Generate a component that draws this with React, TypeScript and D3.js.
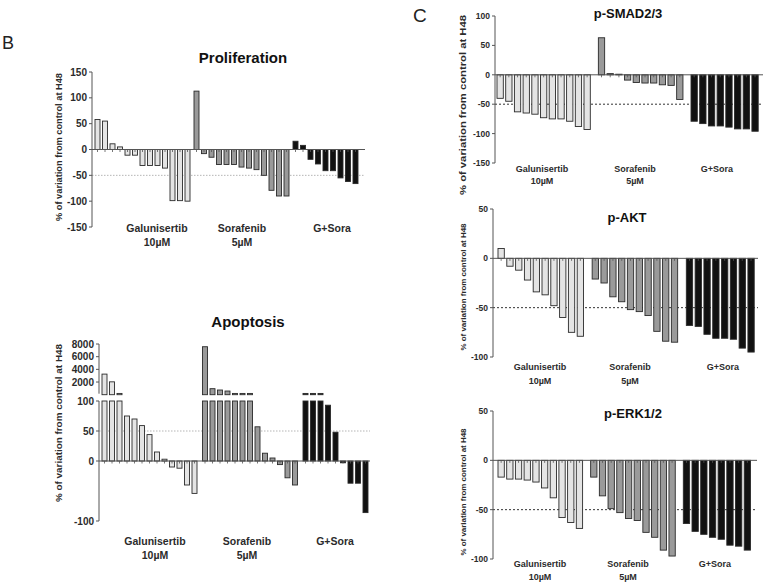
import React from "react";
import * as d3 from "d3";

const groupLabels: string[][] = [["Galunisertib", "10µM"], ["Sorafenib", "5µM"], ["G+Sora"]];
const yAxisTitle = "% of variation from control at H48";

const prolifGalunisertib = [58, 55, 11, 5, -11, -11, -31, -31, -31, -36, -99, -99, -100];
const prolifSorafenib = [113, -8, -15, -29, -29, -29, -34, -36, -39, -50, -79, -90, -90];
const prolifCombo = [16, 8, -19, -28, -41, -41, -55, -62, -66];

const apopGalunisertib = [3250, 2030, 200, 75, 70, 59, 44, 15, 3, -10, -12, -40, -54];
const apopSorafenib = [7570, 950, 740, 580, 200, 200, 200, 57, 13, 5, -6, -28, -40];
const apopCombo = [200, 200, 200, 93, 48, -3, -37, -37, -86];

const smadGalunisertib = [-40, -45, -63, -65, -67, -73, -75, -75, -79, -88, -93];
const smadSorafenib = [63, 2, 1, -9, -13, -14, -14, -17, -18, -42];
const smadCombo = [-79, -83, -87, -87, -89, -92, -92, -96];

const aktGalunisertib = [10, -8, -12, -22, -34, -37, -48, -60, -75, -79];
const aktSorafenib = [-21, -25, -39, -44, -52, -54, -58, -74, -84, -85];
const aktCombo = [-68, -69, -77, -81, -81, -82, -91, -95];

const erkGalunisertib = [-17, -19, -19, -20, -22, -28, -38, -58, -63, -69];
const erkSorafenib = [-17, -36, -49, -53, -59, -61, -73, -78, -91, -97];
const erkCombo = [-64, -72, -75, -78, -80, -86, -87, -91];

const prolifTicks = [150, 100, 50, 0, -50, -100, -150];
const apopLowerTicks = [100, 50, 0, -100];
const apopUpperTicks = [8000, 6000, 4000, 2000];
const smadTicks = [100, 50, 0, -50, -100, -150];
const aktTicks = [50, 0, -50, -100];
const erkTicks = [50, 0, -50, -100];

const FONT = "'Liberation Sans', Arial, Helvetica, sans-serif";
const fills = ["#e4e4e4", "#9a9a9a", "#111111"];
const STROKE = "#2a2a2a";
const AXIS = "#555";
const TEXT = "#2b2b2b";

type PanelProps = {
  title: string; titleX: number; titleY: number; titleSize: number;
  groups: number[][];
  x0: number; step: number; gap: number; barW: number;
  axisX: number; yDomain: [number, number]; yRange: [number, number];
  ticks: number[]; tickSize: number;
  zeroEnd: number; refValue: number; refColor: string; refDash: string;
  labelXs: number[]; labelY: number; labelY2: number; labelSize: number;
  ylabX: number; ylabCY: number; ylabLen: number; ylabSize: number;
  upper?: { domain: [number, number]; range: [number, number]; ticks: number[]; clampAt: number };
};

function Panel(p: PanelProps) {
  const y = d3.scaleLinear().domain(p.yDomain).range(p.yRange);
  const items: { gi: number; v: number; slot: number }[] = [];
  let slot = 0;
  p.groups.forEach((g, gi) => {
    g.forEach((v) => { items.push({ gi, v, slot }); slot += 1; });
    slot += p.gap;
  });
  const total = slot - p.gap;
  const x = d3.scaleLinear().domain([0, total]).range([p.x0, p.x0 + total * p.step]);
  const y0 = y(0);
  const yu = p.upper ? d3.scaleLinear().domain(p.upper.domain).range(p.upper.range) : null;
  const clamp = p.upper ? p.upper.clampAt : Infinity;
  const lowerTop = p.upper ? y(clamp) : p.yRange[1];
  return (
    <g>
      <text x={p.titleX} y={p.titleY} textAnchor="middle" fontFamily={FONT} fontWeight="bold" fontSize={p.titleSize} fill="#111">{p.title}</text>
      {/* reference line */}
      <line x1={p.axisX} x2={p.zeroEnd} y1={y(p.refValue)} y2={y(p.refValue)} stroke={p.refColor} strokeWidth={1} strokeDasharray={p.refDash} />
      {/* bars */}
      {items.map((it, i) => {
        const v = Math.min(it.v, clamp);
        const bx = x(it.slot);
        const top = Math.min(y(v), y0);
        const h = Math.abs(y(v) - y0);
        return (
          <g key={i}>
            <rect x={bx} y={top} width={p.barW} height={Math.max(h, 0.6)} fill={fills[it.gi]} stroke={STROKE} strokeWidth={0.9} />
            {yu && it.v > clamp ? (
              <rect x={bx} y={yu(it.v)} width={p.barW} height={Math.max(yu(0) - yu(it.v), 0.8)} fill={fills[it.gi]} stroke={STROKE} strokeWidth={0.9} />
            ) : null}
            <line x1={bx + p.barW / 2} x2={bx + p.barW / 2} y1={y0} y2={y0 + 2.5} stroke={AXIS} strokeWidth={0.8} />
          </g>
        );
      })}
      {/* zero line */}
      <line x1={p.axisX} x2={p.zeroEnd} y1={y0} y2={y0} stroke={AXIS} strokeWidth={1} />
      {/* y axis */}
      <line x1={p.axisX} x2={p.axisX} y1={lowerTop} y2={p.yRange[0]} stroke={AXIS} strokeWidth={1} />
      {p.ticks.map((t) => (
        <g key={t}>
          <line x1={p.axisX - 3} x2={p.axisX} y1={y(t)} y2={y(t)} stroke={AXIS} strokeWidth={1} />
          <text x={p.axisX - 5} y={y(t)} dy="0.35em" textAnchor="end" fontFamily={FONT} fontWeight="bold" fontSize={p.tickSize} fill={TEXT}>{t}</text>
        </g>
      ))}
      {yu && p.upper ? (
        <g>
          <line x1={p.axisX} x2={p.axisX} y1={yu(p.upper.domain[1])} y2={yu(0) - 1} stroke={AXIS} strokeWidth={1} />
          {p.upper.ticks.map((t) => (
            <g key={"u" + t}>
              <line x1={p.axisX - 3} x2={p.axisX} y1={yu(t)} y2={yu(t)} stroke={AXIS} strokeWidth={1} />
              <text x={p.axisX - 5} y={yu(t)} dy="0.35em" textAnchor="end" fontFamily={FONT} fontWeight="bold" fontSize={p.tickSize} fill={TEXT}>{t}</text>
            </g>
          ))}
        </g>
      ) : null}
      {/* group labels */}
      {groupLabels.map((lines, gi) => (
        <text key={gi} textAnchor="middle" fontFamily={FONT} fontWeight="bold" fontSize={p.labelSize} fill={TEXT}>
          <tspan x={p.labelXs[gi]} y={p.labelY}>{lines[0]}</tspan>
          {lines[1] ? <tspan x={p.labelXs[gi]} y={p.labelY2}>{lines[1]}</tspan> : null}
        </text>
      ))}
      {/* y axis title */}
      <text transform={`translate(${p.ylabX},${p.ylabCY}) rotate(-90)`} textAnchor="middle" dy="0.35em" fontFamily={FONT} fontWeight="bold" fontSize={p.ylabSize} fill={TEXT} textLength={p.ylabLen} lengthAdjust="spacingAndGlyphs">{yAxisTitle}</text>
    </g>
  );
}

export default function App() {
  const bRef = { refColor: "#b5b5b5", refDash: "1.5,1.5" };
  const cRef = { refColor: "#333", refDash: "2,2" };
  return (
    <svg width={768} height={587} viewBox="0 0 768 587" style={{ position: "absolute", left: 0, top: 0, background: "#fff" }}>
      <rect x={0} y={0} width={768} height={587} fill="#fff" />
      <text x={2} y={49} fontFamily={FONT} fontSize={18} fill="#222">B</text>
      <text x={413} y={22} fontFamily={FONT} fontSize={19} fill="#222">C</text>

      <Panel title="Proliferation" titleX={243} titleY={63} titleSize={15}
        groups={[prolifGalunisertib, prolifSorafenib, prolifCombo]}
        x0={95} step={7.5} gap={0.2} barW={5}
        axisX={92} yDomain={[-150, 150]} yRange={[227, 72]} ticks={prolifTicks} tickSize={10}
        zeroEnd={365} refValue={-50} {...bRef}
        labelXs={[157, 242, 332]} labelY={232} labelY2={246} labelSize={10.5}
        ylabX={59} ylabCY={147} ylabLen={148} ylabSize={9.5} />

      <Panel title="Apoptosis" titleX={248} titleY={327} titleSize={15}
        groups={[apopGalunisertib, apopSorafenib, apopCombo]}
        x0={102} step={7.5} gap={0.4} barW={5}
        axisX={99} yDomain={[-100, 100]} yRange={[521, 401]} ticks={apopLowerTicks} tickSize={10}
        zeroEnd={370} refValue={50} {...bRef}
        labelXs={[155, 247, 335]} labelY={545} labelY2={559} labelSize={10.5}
        ylabX={59} ylabCY={423} ylabLen={158} ylabSize={9.5}
        upper={{ domain: [0, 8000], range: [394.7, 344], ticks: apopUpperTicks, clampAt: 100 }} />

      <Panel title="p-SMAD2/3" titleX={628} titleY={18} titleSize={13}
        groups={[smadGalunisertib, smadSorafenib, smadCombo]}
        x0={497} step={8.7} gap={0.65} barW={6.3}
        axisX={495} yDomain={[-150, 100]} yRange={[163, 16]} ticks={smadTicks} tickSize={8.5}
        zeroEnd={763} refValue={-50} {...cRef}
        labelXs={[542, 635, 717]} labelY={172} labelY2={184} labelSize={9}
        ylabX={463} ylabCY={105} ylabLen={180} ylabSize={9} />

      <Panel title="p-AKT" titleX={627} titleY={222} titleSize={13}
        groups={[aktGalunisertib, aktSorafenib, aktCombo]}
        x0={498} step={8.8} gap={0.7} barW={6.3}
        axisX={493} yDomain={[-100, 50]} yRange={[357, 209]} ticks={aktTicks} tickSize={8.5}
        zeroEnd={758} refValue={-50} {...cRef}
        labelXs={[540, 630, 723]} labelY={370} labelY2={384} labelSize={9}
        ylabX={463} ylabCY={287} ylabLen={127} ylabSize={8} />

      <Panel title="p-ERK1/2" titleX={633} titleY={418} titleSize={13}
        groups={[erkGalunisertib, erkSorafenib, erkCombo]}
        x0={498} step={8.7} gap={0.65} barW={6.3}
        axisX={493} yDomain={[-100, 50]} yRange={[559, 411]} ticks={erkTicks} tickSize={8.5}
        zeroEnd={757} refValue={-50} {...cRef}
        labelXs={[540, 628, 715]} labelY={567} labelY2={580} labelSize={9}
        ylabX={463} ylabCY={492} ylabLen={127} ylabSize={8} />
    </svg>
  );
}
